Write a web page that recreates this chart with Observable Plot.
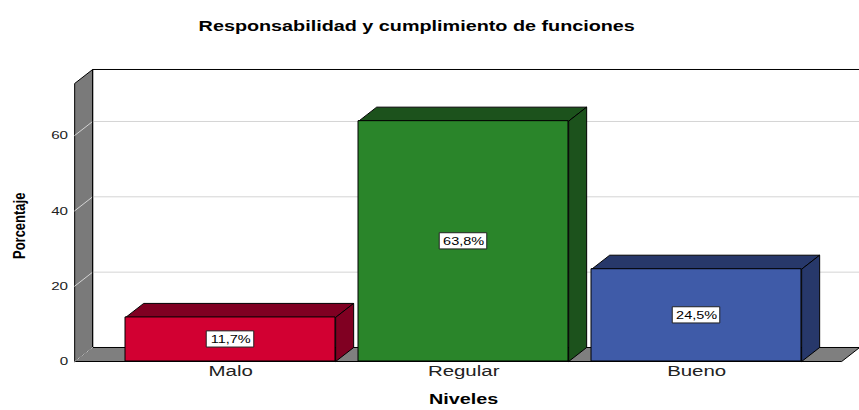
<!DOCTYPE html>
<html><head><meta charset="utf-8">
<script src="https://cdn.jsdelivr.net/npm/d3@7"></script>
<script src="https://cdn.jsdelivr.net/npm/@observablehq/plot@0.6"></script>
<style>
html,body{margin:0;padding:0;background:#fff;}
#chart svg *{vector-effect:non-scaling-stroke;}
</style></head><body><div id="chart"></div>
<script>
// ---- data ----
const categories = ["Malo", "Regular", "Bueno"];
const percentages = [11.7, 63.8, 24.5];
const valueLabels = ["11,7%", "63,8%", "24,5%"];
const frontColors = ["#D20032", "#2A852A", "#3F5BA8"];
const sideColors = ["#800022", "#1C521C", "#27386A"];
const yTicks = [0, 20, 40, 60];
const title = "Responsabilidad y cumplimiento de funciones";
const xTitle = "Niveles";
const yTitle = "Porcentaje";

// ---- geometry (the picture is horizontally stretched) ----
const W = 651, H = 410, S = 859 / 651;
const yMax = 73.8;
const xDom = [-0.6695, 2.6223];
const hw = 0.4506;   // half bar width (category units)
const ox = 0.0773;   // depth offset x (category units)
const oy = 3.72;     // depth offset y (percent units)
const boxHW = 0.102, boxHH = 2.15;
const [xL, xR] = xDom;

const close = pts => pts.concat([pts[0]]);
const poly = (pts, fill, stroke = "#000") =>
  Plot.line(close(pts), {x: d => d[0], y: d => d[1], fill, stroke, strokeWidth: 1, strokeLinejoin: "miter"});
const path = (pts, stroke, sw = 1) =>
  Plot.line(pts, {x: d => d[0], y: d => d[1], stroke, strokeWidth: sw});

const marks = [];
// left wall
marks.push(poly([[xL, 0], [xL, yMax], [xL + ox, yMax + oy], [xL + ox, oy]], "#7A7A7A"));
// gridlines (wall diagonal + back wall)
yTicks.forEach(v => {
  marks.push(path([[xL, v], [xL + ox, v + oy], [xR + ox, v + oy]], "#D4D4D4"));
});
// back wall top + left edge
marks.push(path([[xL + ox, oy], [xL + ox, yMax + oy], [xR + ox, yMax + oy]], "#000"));
// floor
marks.push(poly([[xL, 0], [xR, 0], [xR + ox, oy], [xL + ox, oy]], "#7F7F7F"));
marks.push(path([[xL, 0], [xL + ox, oy]], "#BDBDBD"));
// bars
percentages.forEach((v, i) => {
  marks.push(poly([[i - hw, v], [i + hw, v], [i + hw + ox, v + oy], [i - hw + ox, v + oy]], sideColors[i]));
  marks.push(poly([[i + hw, 0], [i + hw + ox, oy], [i + hw + ox, v + oy], [i + hw, v]], sideColors[i]));
});
marks.push(Plot.rect(percentages, {
  x1: (d, i) => i - hw, x2: (d, i) => i + hw, y1: 0, y2: d => d,
  fill: (d, i) => frontColors[i], stroke: "#000", strokeWidth: 1
}));
// value label boxes
marks.push(Plot.rect(percentages, {
  x1: (d, i) => i - boxHW, x2: (d, i) => i + boxHW,
  y1: d => d / 2 - boxHH, y2: d => d / 2 + boxHH,
  fill: "#fff", stroke: "#222", strokeWidth: 1
}));
marks.push(Plot.text(percentages, {
  x: (d, i) => i, y: d => d / 2, text: (d, i) => valueLabels[i],
  fontSize: 11, fill: "#000"
}));
// y tick labels
marks.push(Plot.text(yTicks, {
  y: d => d, frameAnchor: "left", text: d => String(d),
  textAnchor: "end", dx: -5, fontSize: 11.5, fill: "#222"
}));
// category labels
marks.push(Plot.text(categories, {
  x: (d, i) => i, frameAnchor: "bottom", text: d => d,
  dy: 14, fontSize: 15.5, fill: "#222"
}));
// axis titles
marks.push(Plot.text([xTitle], {
  x: () => (categories.length - 1) / 2, frameAnchor: "bottom", text: d => d,
  dy: 42, fontSize: 15, fontWeight: "bold", fill: "#000"
}));
marks.push(Plot.text([yTitle], {
  frameAnchor: "left", text: d => d, rotate: -90,
  dx: -41.7, dy: 36.5, fontSize: 13, fontWeight: "bold", fill: "#000"
}));
// title
marks.push(Plot.text([title], {
  frameAnchor: "top", text: d => d, dx: -31.4, dy: -63,
  fontSize: 15, fontWeight: "bold", fill: "#000"
}));

const chart = Plot.plot({
  width: W, height: H,
  marginLeft: 74 / S, marginRight: W - 841 / S,
  marginTop: 83, marginBottom: H - 361,
  x: {type: "linear", domain: xDom, axis: null},
  y: {type: "linear", domain: [0, yMax], axis: null},
  style: {fontFamily: "'Liberation Sans', Arial, sans-serif", fontSize: "11px", background: "#fff"},
  marks
});
chart.setAttribute("width", 859);
chart.setAttribute("height", 410);
chart.setAttribute("preserveAspectRatio", "none");
chart.style.width = "859px";
chart.style.height = "410px";
chart.style.maxWidth = "none";
document.getElementById("chart").appendChild(chart);
</script>
</body></html>
